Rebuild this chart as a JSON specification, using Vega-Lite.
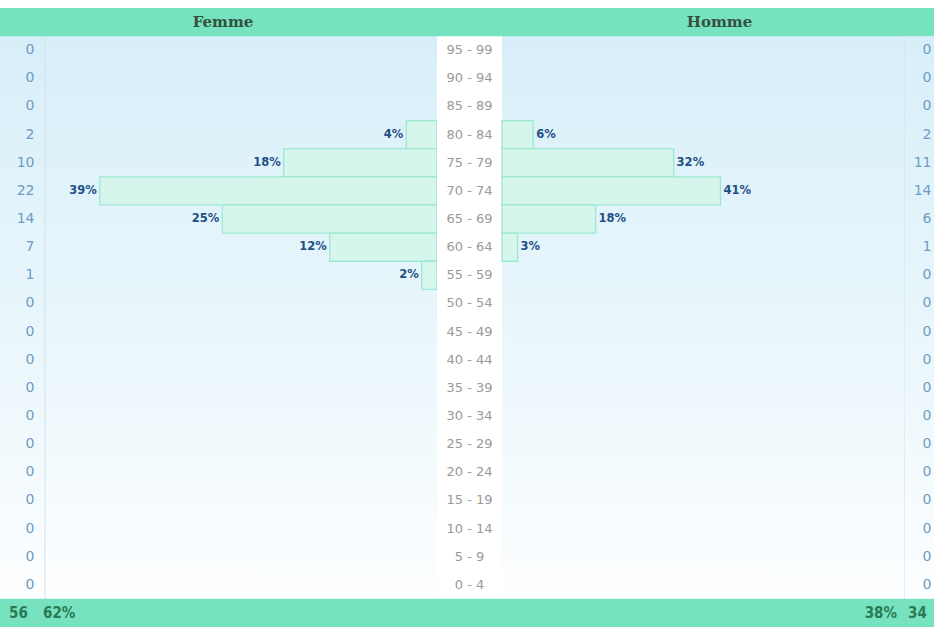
{
  "$schema": "https://vega.github.io/schema/vega-lite/v6.json",
  "padding": 0,
  "background": "#ffffff",
  "spacing": 0,
  "bounds": "flush",
  "config": {"view": {"stroke": null}, "concat": {"spacing": 0}},
  "datasets": {
    "pyr": [
      {"age": "95 - 99", "femme": 0, "homme": 0, "femme_pct": 0, "homme_pct": 0},
      {"age": "90 - 94", "femme": 0, "homme": 0, "femme_pct": 0, "homme_pct": 0},
      {"age": "85 - 89", "femme": 0, "homme": 0, "femme_pct": 0, "homme_pct": 0},
      {"age": "80 - 84", "femme": 2, "homme": 2, "femme_pct": 0.04, "homme_pct": 0.06},
      {"age": "75 - 79", "femme": 10, "homme": 11, "femme_pct": 0.18, "homme_pct": 0.32},
      {"age": "70 - 74", "femme": 22, "homme": 14, "femme_pct": 0.39, "homme_pct": 0.41},
      {"age": "65 - 69", "femme": 14, "homme": 6, "femme_pct": 0.25, "homme_pct": 0.18},
      {"age": "60 - 64", "femme": 7, "homme": 1, "femme_pct": 0.12, "homme_pct": 0.03},
      {"age": "55 - 59", "femme": 1, "homme": 0, "femme_pct": 0.02, "homme_pct": 0},
      {"age": "50 - 54", "femme": 0, "homme": 0, "femme_pct": 0, "homme_pct": 0},
      {"age": "45 - 49", "femme": 0, "homme": 0, "femme_pct": 0, "homme_pct": 0},
      {"age": "40 - 44", "femme": 0, "homme": 0, "femme_pct": 0, "homme_pct": 0},
      {"age": "35 - 39", "femme": 0, "homme": 0, "femme_pct": 0, "homme_pct": 0},
      {"age": "30 - 34", "femme": 0, "homme": 0, "femme_pct": 0, "homme_pct": 0},
      {"age": "25 - 29", "femme": 0, "homme": 0, "femme_pct": 0, "homme_pct": 0},
      {"age": "20 - 24", "femme": 0, "homme": 0, "femme_pct": 0, "homme_pct": 0},
      {"age": "15 - 19", "femme": 0, "homme": 0, "femme_pct": 0, "homme_pct": 0},
      {"age": "10 - 14", "femme": 0, "homme": 0, "femme_pct": 0, "homme_pct": 0},
      {"age": "5 - 9", "femme": 0, "homme": 0, "femme_pct": 0, "homme_pct": 0},
      {"age": "0 - 4", "femme": 0, "homme": 0, "femme_pct": 0, "homme_pct": 0}
    ],
    "totals": [
      {"sex": "Femme", "count": 56, "share": 0.62},
      {"sex": "Homme", "count": 34, "share": 0.38}
    ],
    "bands": [{"band": "header"}, {"band": "footer"}]
  },
  "hconcat": [
    {
      "width": 45, "height": 627,
      "data": {"name": "pyr"},
      "layer": [
        {"mark": {"type": "rect", "fill": {"gradient": "linear", "x1": 0, "y1": 0, "x2": 0, "y2": 1, "stops": [{"offset": 0, "color": "#ffffff"}, {"offset": 0.013, "color": "#ffffff"}, {"offset": 0.014, "color": "#d6eef9"}, {"offset": 0.5, "color": "#e8f6fb"}, {"offset": 0.95, "color": "#fdfeff"}, {"offset": 1, "color": "#ffffff"}]}}, "encoding": {}},
        {"mark": {"type": "text", "align": "right", "dx": 12, "fontSize": 14, "font": "DejaVu Sans", "color": "#6e9cc4"},
         "encoding": {"y": {"field": "age", "type": "nominal", "scale": {"type": "band", "domain": ["header","95 - 99","90 - 94","85 - 89","80 - 84","75 - 79","70 - 74","65 - 69","60 - 64","55 - 59","50 - 54","45 - 49","40 - 44","35 - 39","30 - 34","25 - 29","20 - 24","15 - 19","10 - 14","5 - 9","0 - 4","footer"], "range": [8, 627], "paddingInner": 0, "paddingOuter": 0}, "axis": null},
                      "text": {"field": "femme", "type": "quantitative"}}},
        {"data": {"name": "bands"}, "mark": {"type": "rect", "fill": "#76e2c0"},
         "encoding": {"y": {"field": "band", "type": "nominal"}}},
        {"data": {"name": "totals"}, "transform": [{"filter": "datum.sex === 'Femme'"}],
         "mark": {"type": "text", "align": "center", "dx": -4, "fontSize": 15, "fontWeight": "bold", "font": "DejaVu Sans Condensed", "color": "#2b7a52"},
         "encoding": {"y": {"datum": "footer"}, "text": {"field": "count", "type": "quantitative"}}}
      ]
    },
    {
      "width": 392, "height": 627,
      "data": {"name": "pyr"},
      "layer": [
        {"mark": {"type": "rect", "fill": {"gradient": "linear", "x1": 0, "y1": 0, "x2": 0, "y2": 1, "stops": [{"offset": 0, "color": "#ffffff"}, {"offset": 0.013, "color": "#ffffff"}, {"offset": 0.014, "color": "#d6eef9"}, {"offset": 0.5, "color": "#e8f6fb"}, {"offset": 0.95, "color": "#fdfeff"}, {"offset": 1, "color": "#ffffff"}]}}, "encoding": {}},
        {"transform": [{"filter": "datum.femme > 0"}],
         "mark": {"type": "bar", "fill": "#d4f6ea", "fillOpacity": 0.85, "stroke": "#9ce9cf", "strokeWidth": 1.3},
         "encoding": {"y": {"field": "age", "type": "nominal", "scale": {"type": "band", "domain": ["header","95 - 99","90 - 94","85 - 89","80 - 84","75 - 79","70 - 74","65 - 69","60 - 64","55 - 59","50 - 54","45 - 49","40 - 44","35 - 39","30 - 34","25 - 29","20 - 24","15 - 19","10 - 14","5 - 9","0 - 4","footer"], "range": [8, 627], "paddingInner": 0, "paddingOuter": 0}, "axis": null},
                      "x": {"field": "femme", "type": "quantitative", "scale": {"domain": [0, 25.57], "reverse": true, "nice": false, "zero": true}, "axis": null}}},
        {"data": {"name": "totals"}, "transform": [{"filter": "datum.sex === 'Femme'"}],
         "mark": {"type": "rule", "color": "#cfe3ec", "strokeWidth": 1},
         "encoding": {"x": {"datum": 25.57, "type": "quantitative"},
                      "y": {"datum": "95 - 99", "bandPosition": 0},
                      "y2": {"datum": "0 - 4", "bandPosition": 1}}},
        {"transform": [{"filter": "datum.femme > 0"}],
         "mark": {"type": "text", "align": "right", "dx": -3, "fontSize": 11.5, "fontWeight": "bold", "font": "DejaVu Sans", "color": "#1f4f86"},
         "encoding": {"y": {"field": "age", "type": "nominal"},
                      "x": {"field": "femme", "type": "quantitative"},
                      "text": {"field": "femme_pct", "type": "quantitative", "format": ".0%"}}},
        {"data": {"name": "bands"}, "mark": {"type": "rect", "fill": "#76e2c0"},
         "encoding": {"y": {"field": "band", "type": "nominal"}}},
        {"data": {"name": "totals"}, "transform": [{"filter": "datum.sex === 'Femme'"}],
         "mark": {"type": "text", "align": "center", "dx": -18, "fontSize": 15, "fontWeight": "bold", "font": "DejaVu Serif", "color": "#35503f"},
         "encoding": {"y": {"datum": "header"}, "text": {"field": "sex", "type": "nominal"}}},
        {"data": {"name": "totals"}, "transform": [{"filter": "datum.sex === 'Femme'"}],
         "mark": {"type": "text", "align": "left", "dx": -2, "fontSize": 15, "fontWeight": "bold", "font": "DejaVu Sans Condensed", "color": "#2b7a52"},
         "encoding": {"y": {"datum": "footer"}, "x": {"datum": 25.57, "type": "quantitative"},
                      "text": {"field": "share", "type": "quantitative", "format": ".0%"}}}
      ]
    },
    {
      "width": 65, "height": 627,
      "data": {"name": "pyr"},
      "layer": [
        {"mark": {"type": "rect", "fill": "#ffffff"}, "encoding": {}},
        {"mark": {"type": "text", "align": "center", "fontSize": 13, "font": "DejaVu Sans", "color": "#9a9a9a"},
         "encoding": {"y": {"field": "age", "type": "nominal", "scale": {"type": "band", "domain": ["header","95 - 99","90 - 94","85 - 89","80 - 84","75 - 79","70 - 74","65 - 69","60 - 64","55 - 59","50 - 54","45 - 49","40 - 44","35 - 39","30 - 34","25 - 29","20 - 24","15 - 19","10 - 14","5 - 9","0 - 4","footer"], "range": [8, 627], "paddingInner": 0, "paddingOuter": 0}, "axis": null},
                      "text": {"field": "age", "type": "nominal"}}},
        {"data": {"name": "bands"}, "mark": {"type": "rect", "fill": "#76e2c0"},
         "encoding": {"y": {"field": "band", "type": "nominal"}}}
      ]
    },
    {
      "width": 403, "height": 627,
      "data": {"name": "pyr"},
      "layer": [
        {"mark": {"type": "rect", "fill": {"gradient": "linear", "x1": 0, "y1": 0, "x2": 0, "y2": 1, "stops": [{"offset": 0, "color": "#ffffff"}, {"offset": 0.013, "color": "#ffffff"}, {"offset": 0.014, "color": "#d6eef9"}, {"offset": 0.5, "color": "#e8f6fb"}, {"offset": 0.95, "color": "#fdfeff"}, {"offset": 1, "color": "#ffffff"}]}}, "encoding": {}},
        {"transform": [{"filter": "datum.homme > 0"}],
         "mark": {"type": "bar", "fill": "#d4f6ea", "fillOpacity": 0.85, "stroke": "#9ce9cf", "strokeWidth": 1.3},
         "encoding": {"y": {"field": "age", "type": "nominal", "scale": {"type": "band", "domain": ["header","95 - 99","90 - 94","85 - 89","80 - 84","75 - 79","70 - 74","65 - 69","60 - 64","55 - 59","50 - 54","45 - 49","40 - 44","35 - 39","30 - 34","25 - 29","20 - 24","15 - 19","10 - 14","5 - 9","0 - 4","footer"], "range": [8, 627], "paddingInner": 0, "paddingOuter": 0}, "axis": null},
                      "x": {"field": "homme", "type": "quantitative", "scale": {"domain": [0, 25.83], "nice": false, "zero": true}, "axis": null}}},
        {"data": {"name": "totals"}, "transform": [{"filter": "datum.sex === 'Homme'"}],
         "mark": {"type": "rule", "color": "#cfe3ec", "strokeWidth": 1},
         "encoding": {"x": {"datum": 25.83, "type": "quantitative"},
                      "y": {"datum": "95 - 99", "bandPosition": 0},
                      "y2": {"datum": "0 - 4", "bandPosition": 1}}},
        {"transform": [{"filter": "datum.homme > 0"}],
         "mark": {"type": "text", "align": "left", "dx": 3, "fontSize": 11.5, "fontWeight": "bold", "font": "DejaVu Sans", "color": "#1f4f86"},
         "encoding": {"y": {"field": "age", "type": "nominal"},
                      "x": {"field": "homme", "type": "quantitative"},
                      "text": {"field": "homme_pct", "type": "quantitative", "format": ".0%"}}},
        {"data": {"name": "bands"}, "mark": {"type": "rect", "fill": "#76e2c0"},
         "encoding": {"y": {"field": "band", "type": "nominal"}}},
        {"data": {"name": "totals"}, "transform": [{"filter": "datum.sex === 'Homme'"}],
         "mark": {"type": "text", "align": "center", "dx": 16, "fontSize": 15, "fontWeight": "bold", "font": "DejaVu Serif", "color": "#35503f"},
         "encoding": {"y": {"datum": "header"}, "text": {"field": "sex", "type": "nominal"}}},
        {"data": {"name": "totals"}, "transform": [{"filter": "datum.sex === 'Homme'"}],
         "mark": {"type": "text", "align": "right", "dx": -8, "fontSize": 15, "fontWeight": "bold", "font": "DejaVu Sans Condensed", "color": "#2b7a52"},
         "encoding": {"y": {"datum": "footer"}, "x": {"datum": 25.83, "type": "quantitative"},
                      "text": {"field": "share", "type": "quantitative", "format": ".0%"}}}
      ]
    },
    {
      "width": 29, "height": 627,
      "data": {"name": "pyr"},
      "layer": [
        {"mark": {"type": "rect", "fill": {"gradient": "linear", "x1": 0, "y1": 0, "x2": 0, "y2": 1, "stops": [{"offset": 0, "color": "#ffffff"}, {"offset": 0.013, "color": "#ffffff"}, {"offset": 0.014, "color": "#d6eef9"}, {"offset": 0.5, "color": "#e8f6fb"}, {"offset": 0.95, "color": "#fdfeff"}, {"offset": 1, "color": "#ffffff"}]}}, "encoding": {}},
        {"mark": {"type": "text", "align": "right", "dx": 12, "fontSize": 14, "font": "DejaVu Sans", "color": "#6e9cc4"},
         "encoding": {"y": {"field": "age", "type": "nominal", "scale": {"type": "band", "domain": ["header","95 - 99","90 - 94","85 - 89","80 - 84","75 - 79","70 - 74","65 - 69","60 - 64","55 - 59","50 - 54","45 - 49","40 - 44","35 - 39","30 - 34","25 - 29","20 - 24","15 - 19","10 - 14","5 - 9","0 - 4","footer"], "range": [8, 627], "paddingInner": 0, "paddingOuter": 0}, "axis": null},
                      "text": {"field": "homme", "type": "quantitative"}}},
        {"data": {"name": "bands"}, "mark": {"type": "rect", "fill": "#76e2c0"},
         "encoding": {"y": {"field": "band", "type": "nominal"}}},
        {"data": {"name": "totals"}, "transform": [{"filter": "datum.sex === 'Homme'"}],
         "mark": {"type": "text", "align": "center", "dx": -2, "fontSize": 15, "fontWeight": "bold", "font": "DejaVu Sans Condensed", "color": "#2b7a52"},
         "encoding": {"y": {"datum": "footer"}, "text": {"field": "count", "type": "quantitative"}}}
      ]
    }
  ]
}
